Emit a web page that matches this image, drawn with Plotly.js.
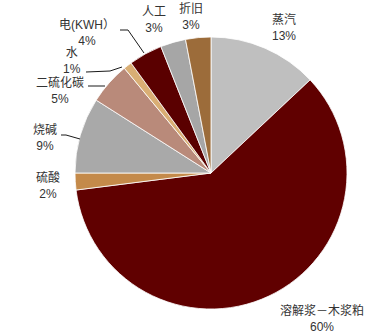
<!DOCTYPE html>
<html>
<head>
<meta charset="utf-8">
<script src="https://cdn.plot.ly/plotly-3.0.1.min.js"></script>
<style>
  html, body { margin: 0; padding: 0; background: #fff; }
  #chart { width: 371px; height: 336px; }
</style>
</head>
<body>
<div id="chart"></div>
<script>
// Cost structure: categories and their shares (%)
const categories = ['蒸汽', '溶解浆－木浆粕', '硫酸', '烧碱', '二硫化碳', '水', '电(KWH）', '人工', '折旧'];
const shares = [13, 60, 2, 9, 5, 1, 4, 3, 3];
const sliceColors = ['#BFBFBF', '#600000', '#C48A4A', '#A9A9A9', '#B98A7A', '#D9AE74', '#5A0000', '#A6A6A6', '#9C6C3A'];

// Label anchor positions (pixels) and optional leader lines
const labelPos = [
  [284, 27], [322, 318], [48, 185], [45, 138], [60, 91],
  [72, 61], [87, 33], [154, 20], [191, 16]
];
const leaders = {
  3: [[61, 135], [66, 135], [80, 139]],
  4: [[88, 86], [105, 86]],
  5: [[86, 72], [110, 71], [122, 67]],
  6: [[120, 30], [128, 30], [144, 53]]
};

const W = 371, H = 336;
const cx = 211, cy = 173, r = 136;

const annotations = categories.map((c, i) => ({
  xref: 'paper', yref: 'paper',
  x: labelPos[i][0] / W, y: 1 - labelPos[i][1] / H,
  xanchor: 'center', yanchor: 'middle',
  showarrow: false,
  align: 'center',
  text: c + '<br>' + shares[i] + '%',
  font: { family: 'Liberation Sans, Arial, "Noto Sans CJK SC"', size: 12, color: '#333333' }
}));

const shapes = Object.keys(leaders).map(k => {
  const pts = leaders[k];
  const path = pts.map((p, j) => (j ? 'L' : 'M') + (p[0] / W) + ',' + (1 - p[1] / H)).join(' ');
  return { type: 'path', xref: 'paper', yref: 'paper', path: path, line: { color: '#1a1a1a', width: 1 } };
});

const trace = {
  type: 'pie',
  labels: categories,
  values: shares,
  sort: false,
  direction: 'clockwise',
  rotation: 0,
  textinfo: 'none',
  hoverinfo: 'label+percent',
  marker: { colors: sliceColors, line: { color: '#ffffff', width: 0.8 } },
  domain: { x: [(cx - r) / W, (cx + r) / W], y: [1 - (cy + r) / H, 1 - (cy - r) / H] }
};

Plotly.newPlot('chart', [trace], {
  width: W, height: H,
  margin: { l: 0, r: 0, t: 0, b: 0 },
  showlegend: false,
  paper_bgcolor: '#ffffff',
  annotations: annotations,
  shapes: shapes
}, { displayModeBar: false, staticPlot: true });
</script>
</body>
</html>
